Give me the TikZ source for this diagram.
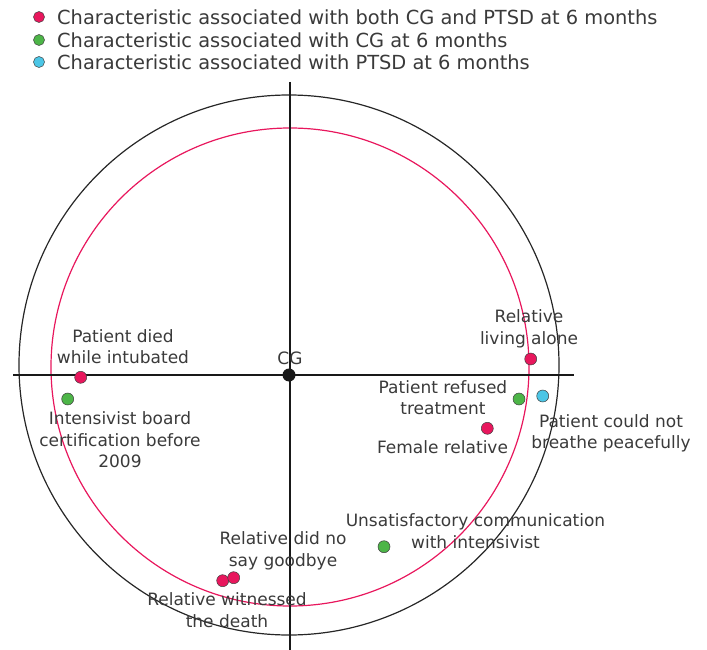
\documentclass[tikz,border=0pt]{standalone}
\usepackage{fontspec}
\setmainfont{DejaVu Sans}
\usepackage{tikz}

\definecolor{bothred}{HTML}{E8175D}
\definecolor{cggreen}{HTML}{4DB548}
\definecolor{ptsdblue}{HTML}{4CC6E6}
\definecolor{txtgray}{HTML}{3A3A3A}

\tikzset{
    pdot/.style={circle, draw=black!75, line width=0.5pt, inner sep=0pt, minimum size=12pt},
    both/.style={pdot, fill=bothred},
    cgonly/.style={pdot, fill=cggreen},
    ptsdonly/.style={pdot, fill=ptsdblue},
    keydot/.style={minimum size=11pt},
    lbl/.style={text=txtgray, font=\fontsize{17}{21.5}\selectfont, align=center, inner sep=0pt},
    keytxt/.style={text=txtgray, font=\fontsize{19.4}{20}\selectfont, anchor=west, inner sep=0pt},
}

\begin{document}
\begin{tikzpicture}[x=1pt, y=-1pt]
    \useasboundingbox (0,0) rectangle (707,650);
    \coordinate (O) at (289,375);
    \coordinate (Oout) at (289,365);
    \coordinate (Ored) at (290,367);
    % circles
    \draw[black!85, line width=1.2pt] (Oout) circle[radius=270pt];
    \draw[bothred, line width=1.2pt] (Ored) circle[radius=239pt];
    % axes
    \coordinate (W) at (13,375);
    \coordinate (E) at (574,375);
    \coordinate (N) at (290,82);
    \coordinate (S) at (290,650);
    \draw[black!90, line width=2.6pt] (W) -- (E);
    \draw[black!90, line width=2.6pt] (N) -- (S);
    \node[circle, fill=black!90, inner sep=0pt, minimum size=13pt] (cg) at (O) {};
    \node[lbl] (cglbl) at (290,358) {CG};

    % legend
    \node[both, keydot] (k1) at (39,17) {};
    \node[cgonly, keydot] (k2) at (39,40) {};
    \node[ptsdonly, keydot] (k3) at (39,62) {};
    \node[keytxt] (t1) at (57,17) {Characteristic associated with both CG and PTSD at 6 months};
    \node[keytxt] (t2) at (57,40) {Characteristic associated with CG at 6 months};
    \node[keytxt] (t3) at (57,62) {Characteristic associated with PTSD at 6 months};

    % characteristics
    \node[both] (intub) at (80.7,377.3) {};
    \node[cgonly] (board) at (67.7,399) {};
    \node[both] (alone) at (530.7,359) {};
    \node[cgonly] (refused) at (519,399) {};
    \node[ptsdonly] (breathe) at (542.7,396) {};
    \node[both] (female) at (487.3,428.3) {};
    \node[both] (witness) at (222.7,580.7) {};
    \node[both] (goodbye) at (233.7,577.7) {};
    \node[cgonly] (commun) at (384,546.7) {};

    \node[lbl] (intubl) at (123,346.5) {Patient died\\while intubated};
    \node[lbl] (boardl) at (120,440) {Intensivist board\\certification before\\2009};
    \node[lbl] (alonel) at (529,329) {Relative\\living alone};
    \node[lbl] (refusedl) at (443,397.5) {Patient refused\\treatment};
    \node[lbl] (breathel) at (611,433.5) {Patient could not\\breathe peacefully};
    \node[lbl] (femalel) at (442.5,447) {Female relative};
    \node[lbl] (goodbyel) at (283,551) {Relative did no\\say goodbye};
    \node[lbl] (witnessl) at (227,610) {Relative witnessed\\the death};
    \node[lbl] (communl) at (475.5,531) {Unsatisfactory communication\\with intensivist};
\end{tikzpicture}
\end{document}
